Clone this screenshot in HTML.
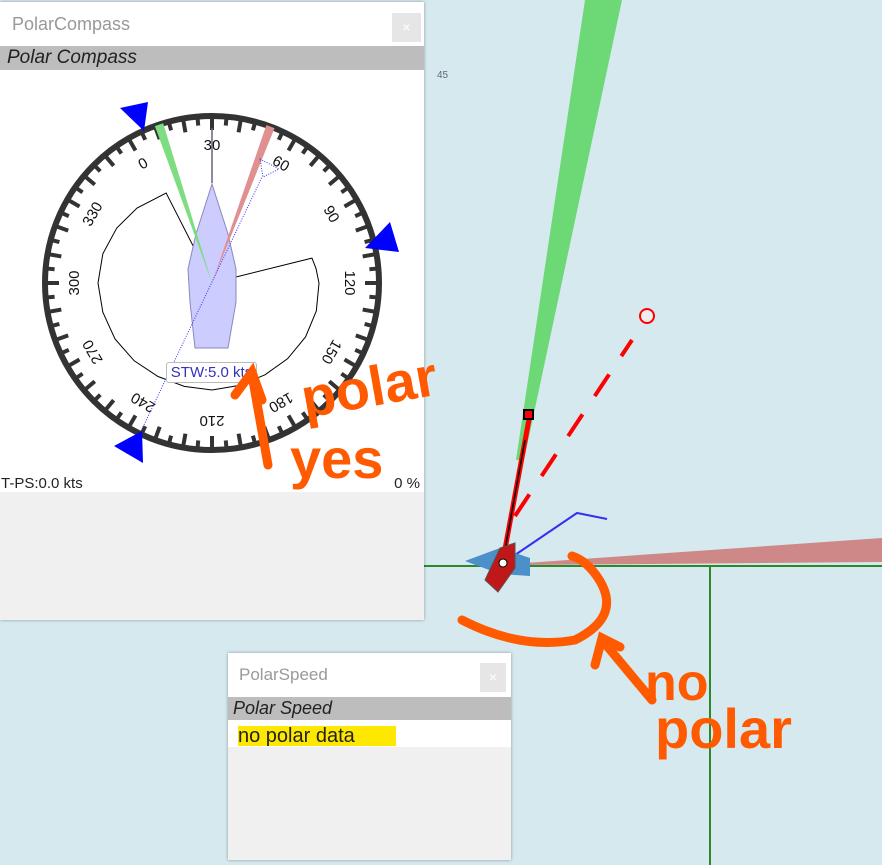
<!DOCTYPE html>
<html><head><meta charset="utf-8">
<style>
body{margin:0;width:882px;height:865px;overflow:hidden;background:#d5e9ee;font-family:"Liberation Sans",sans-serif;position:relative}
.panel{position:absolute;background:#f0f0f0;box-shadow:0 0 3px rgba(0,0,0,.35)}
.tbar{position:absolute;left:0;right:0;top:0;background:#fff;color:#999;font-size:18px}
.hdr{position:absolute;left:0;right:0;background:#bdbdbd;font-style:italic;color:#222;font-size:19px}
.x{position:absolute;background:#e6e6e6;color:#fff;text-align:center;font-size:14px}
</style></head><body>
<svg width="882" height="865" style="position:absolute;left:0;top:0">
 <line x1="424" y1="566" x2="882" y2="566" stroke="#2a8a2a" stroke-width="2"/>
 <line x1="710" y1="566" x2="710" y2="865" stroke="#2a8a2a" stroke-width="2"/>
 <text x="437" y="78" font-size="10" fill="#667">45</text>
 <polygon points="585,0 622,0 524,460 516,460" fill="#6cd876"/>
 <polygon points="525,563 882,538 882,562 525,565" fill="#cf8888"/>
 <line x1="515" y1="516" x2="632" y2="340" stroke="#f00" stroke-width="4" stroke-dasharray="26,22"/>
 <circle cx="647" cy="316" r="7" fill="#eee" stroke="#f00" stroke-width="2"/>
 <polyline points="515,555 577,513 607,519" fill="none" stroke="#3333ee" stroke-width="2"/>
 <polygon points="465,561 500,548 530,558 530,576 500,574" fill="#4b90c8"/>
 <line x1="503" y1="560" x2="530" y2="414" stroke="#f00" stroke-width="5"/>
 <line x1="504" y1="555" x2="525" y2="440" stroke="#000" stroke-width="1.5"/>
 <rect x="524" y="410" width="9" height="9" fill="#f00" stroke="#000" stroke-width="2"/>
 <polygon points="485,580 500,548 515,543 515,568 498,592" fill="#c01818" stroke="#555"/>
 <circle cx="503" cy="563" r="4" fill="#fff" stroke="#000" stroke-width="1"/>
</svg>

<div class="panel" style="left:0;width:424px;height:618px;top:2px">
 <div class="tbar" style="height:44px;line-height:44px;padding-left:12px">PolarCompass</div>
 <div class="x" style="left:392px;top:11px;width:29px;height:29px;line-height:29px">×</div>
 <div class="hdr" style="top:44px;height:24px;line-height:24px;padding-left:7px">Polar Compass</div>
 <div style="position:absolute;left:0;right:0;top:68px;height:422px;background:#fff">
  <svg id="cmp" width="424" height="422" style="position:absolute;left:0;top:0"></svg>
  <div style="position:absolute;left:166px;top:292px;width:89px;height:19px;border:1px solid #bbb;border-radius:3px;background:#fff;color:#3333bb;font-size:15px;line-height:19px;text-align:center">STW:5.0 kts</div>
  <div style="position:absolute;left:1px;top:405px;font-size:15px;color:#222">T-PS:0.0 kts</div>
  <div style="position:absolute;right:4px;top:405px;font-size:15px;color:#222">0 %</div>
 </div>
</div>

<div class="panel" style="left:228px;top:653px;width:283px;height:207px">
 <div class="tbar" style="height:44px;line-height:44px;padding-left:11px;font-size:17px">PolarSpeed</div>
 <div class="x" style="left:252px;top:10px;width:26px;height:29px;line-height:29px">×</div>
 <div class="hdr" style="top:44px;height:23px;line-height:23px;padding-left:5px;font-size:18px">Polar Speed</div>
 <div style="position:absolute;left:0;right:0;top:67px;height:27px;background:#fff">
  <span style="position:absolute;left:10px;top:6px;height:20px;width:158px;background:#ffe800;font-size:20px;line-height:20px;color:#222">no polar data</span>
 </div>
</div>

<svg width="882" height="865" style="position:absolute;left:0;top:0;z-index:5">
 <g stroke="#ff5a00" stroke-width="9" fill="none" stroke-linecap="round">
  <path d="M268,465 L252,375 M235,395 L252,372 L262,400"/>
  <path d="M462,620 Q520,650 575,640 Q625,615 596,575 Q585,560 572,556"/>
  <path d="M652,700 L602,640 M595,665 L602,638 L620,647"/>
 </g>
 <g fill="#ff5a00" font-weight="bold" font-family="Liberation Sans,sans-serif">
  <text x="305" y="418" font-size="56" transform="rotate(-10 305 418)">polar</text>
  <text x="290" y="478" font-size="56">yes</text>
  <text x="645" y="700" font-size="52">no</text>
  <text x="655" y="748" font-size="56">polar</text>
 </g>
</svg>

<script>
const labels=[0,30,60,90,120,150,180,210,240,270,300,330];
const labelOffset=30;
const polarAngles=[106,112,120,135,150,165,180,195,210,225,240,255,270,285,300,315,330,345,363];
const polarRadius=[103,105,107,108,108,107,106,106,107,107,108,110,112,113,114,113,110,106,101];
const NS='http://www.w3.org/2000/svg';
const svg=document.getElementById('cmp');
const cx=212,cy=213,R=167;
function mk(t,a,p){const e=document.createElementNS(NS,t);for(const k in a)e.setAttribute(k,a[k]);(p||svg).appendChild(e);return e;}
function pt(deg,r){const a=(deg-labelOffset)*Math.PI/180;return [cx+r*Math.sin(a),cy-r*Math.cos(a)];}
let pts=[cx+','+cy];
for(let i=0;i<polarAngles.length;i++){pts.push(pt(polarAngles[i],polarRadius[i]).join(','));}
const pc=mk('polygon',{points:pts.join(' '),fill:'none',stroke:'#000','stroke-width':1});


const ring=mk('circle',{cx:cx,cy:cy,r:R,fill:'none',stroke:'#333','stroke-width':6});


for(let d=0;d<360;d+=5){const L=d%10==0?14:9;const a=pt(d,R);const b=pt(d,R-L);
 const t=mk('line',{x1:a[0],y1:a[1],x2:b[0],y2:b[1],stroke:'#333','stroke-width':4});
 
 }
labels.forEach(v=>{const p=pt(v,138);const t=mk('text',{x:p[0],y:p[1]+5,'text-anchor':'middle','font-size':15,fill:'#111',transform:`rotate(${v-labelOffset} ${p[0]} ${p[1]})`});t.textContent=v;
 
 });
function wedge(a1,a2,col,name){const p1=pt(a1,R),p2=pt(a2,R);const w=mk('polygon',{points:`${cx},${cy} ${p1} ${p2}`,fill:col});
 
 }
const boat=mk('polygon',{points:'212,114 228,164 236,199 236,232 228,278 195,278 190,232 188,199 196,164',fill:'#ccccff',stroke:'#8888bb'});


wedge(10,13,'#7ddd80','wind-green');
wedge(49,52,'#e09090','wind-red');
mk('line',{x1:cx,y1:cy-100,x2:cx,y2:cy-155,stroke:'#667',"stroke-width":1.5});
const dl=mk('line',{x1:143,y1:357,x2:262,y2:107,stroke:'#33f','stroke-dasharray':'1,1.5'});


mk('polygon',{points:'260,89 279,99 263,107',fill:'none',stroke:'#33f','stroke-dasharray':'1,1.5'});
[[145,46,'M120,38 L148,32 L144,61Z'],[388,168,'M365,178 L390,152 L399,182Z'],[132,372,'M114,376 L142,361 L143,393Z']].forEach(a=>{
 const p=mk('path',{d:a[2],fill:'#0000ff'});
 
 });
</script>
</body></html>
